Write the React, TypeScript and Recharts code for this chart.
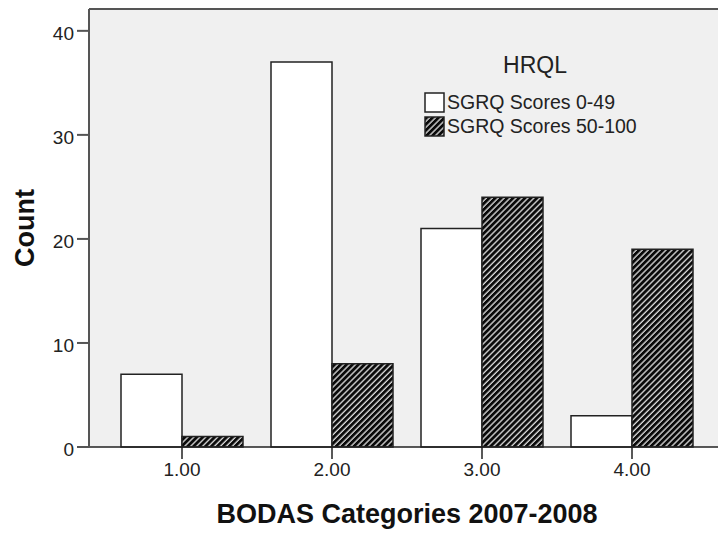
import { BarChart, Bar, XAxis, YAxis, CartesianGrid, ReferenceLine } from 'recharts'

const categories = ['1.00', '2.00', '3.00', '4.00']
const scoresLow = [7, 37, 21, 3]
const scoresHigh = [1, 8, 24, 19]
const yTicks = [0, 10, 20, 30, 40]
const seriesNames = ['SGRQ Scores 0-49', 'SGRQ Scores 50-100']

const data = categories.map((c, i) => ({ category: c, low: scoresLow[i], high: scoresHigh[i] }))

const FONT = '"Liberation Sans", Arial, sans-serif'
const Y_MAX = 42.1

const XTick = ({ x, y, payload }: any) => (
  <text x={x} y={y + 15} textAnchor="middle" fontSize={19} fill="#222" fontFamily={FONT}>
    {payload.value}
  </text>
)

const YTick = ({ x, y, payload }: any) => (
  <text x={x} y={y} dy="0.48em" textAnchor="end" fontSize={19} fill="#222" fontFamily={FONT}>
    {payload.value}
  </text>
)

const CountLabel = ({ viewBox }: any) => {
  const cy = viewBox.y + viewBox.height / 2
  return (
    <text x={24} y={cy} transform={`rotate(-90 24 ${cy})`} textAnchor="middle" dy="0.36em" fontSize={27} fontWeight="bold" fill="#111" fontFamily={FONT}>
      Count
    </text>
  )
}

// legend drawn on top of the plot, like the SPSS one
function HrqlLegend() {
  const swatch = (hatched: boolean) => (
    <svg width={21} height={21} style={{ display: 'block', marginRight: 2 }}>
      <rect x={1} y={1} width={19} height={19} fill={hatched ? 'url(#hatch)' : '#fff'} stroke="#222" strokeWidth={1.5} />
    </svg>
  )
  return (
    <div style={{ position: 'absolute', left: 424, top: 51, fontFamily: FONT, color: '#222' }}>
      <div style={{ fontSize: 23, lineHeight: '28px', textAlign: 'center', width: 222, marginBottom: 11 }}>HRQL</div>
      {seriesNames.map((name, i) => (
        <div key={name} style={{ display: 'flex', alignItems: 'center', fontSize: 19.5, height: 24.5 }}>
          {swatch(i === 1)}
          <span>{name}</span>
        </div>
      ))}
    </div>
  )
}

export default function App() {
  return (
    <div style={{ position: 'fixed', left: 0, top: 0, width: 718, height: 534, overflow: 'hidden', background: '#fff' }}>
      <BarChart
        width={730}
        height={534}
        data={data}
        margin={{ top: 9, right: 5, left: 0, bottom: 0 }}
        barCategoryGap={14}
        barGap={0}
        style={{ fontFamily: FONT }}
      >
        <defs>
          <pattern id="hatch" patternUnits="userSpaceOnUse" width={4.2} height={4.2} patternTransform="rotate(45)">
            <rect x={0} y={0} width={4.2} height={4.2} fill="#0a0a0a" />
            <line x1={1} y1={0} x2={1} y2={4.2} stroke="#e0e0e0" strokeWidth={1.3} />
          </pattern>
        </defs>
        <CartesianGrid fill="#f0f0f0" horizontal={false} vertical={false} />
        <ReferenceLine y={Y_MAX} stroke="#555" strokeWidth={2} ifOverflow="extendDomain" />
        <XAxis
          dataKey="category"
          height={87}
          padding={{ left: 18, right: 18 }}
          tickSize={12}
          tick={<XTick />}
          stroke="#222"
          strokeWidth={1.5}
          label={{ value: 'BODAS Categories 2007-2008', position: 'insideBottom', offset: 11, fontSize: 27, fontWeight: 'bold', fill: '#111' }}
        />
        <YAxis
          width={89}
          domain={[0, Y_MAX]}
          ticks={yTicks}
          tickSize={12}
          tickMargin={3}
          tick={<YTick />}
          stroke="#555"
          strokeWidth={2}
          label={<CountLabel />}
        />
        <Bar dataKey="low" name={seriesNames[0]} fill="#fff" stroke="#222" strokeWidth={1.5} isAnimationActive={false} />
        <Bar dataKey="high" name={seriesNames[1]} fill="url(#hatch)" stroke="#222" strokeWidth={1.5} isAnimationActive={false} />
      </BarChart>
      <HrqlLegend />
    </div>
  )
}
